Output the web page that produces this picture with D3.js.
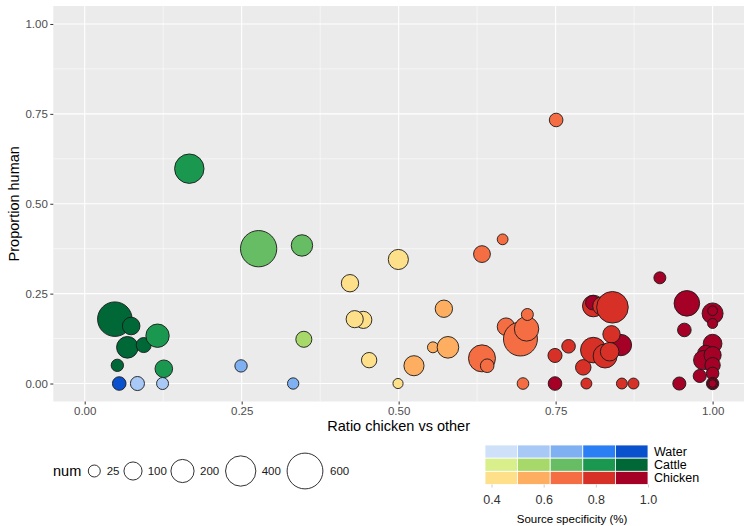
<!DOCTYPE html>
<html>
<head>
<meta charset="utf-8">
<script src="https://cdn.jsdelivr.net/npm/d3@7"></script>
<style>
  body { margin: 0; background: #fff; }
  svg { display: block; font-family: "Liberation Sans", Arial, Helvetica, sans-serif; }
</style>
</head>
<body>
<svg id="chart" width="750" height="526"></svg>
<script>
// ---------------- DATA ----------------
const ratio = [
  0.048, 0.074, 0.068, 0.094, 0.116, 0.052, 0.126, 0.055, 0.084, 0.124,
  0.249, 0.332, 0.1666, 0.277, 0.346, 0.349,
  0.4995, 0.4225, 0.4437, 0.430, 0.453, 0.499,
  0.572, 0.5546, 0.5785, 0.5244,
  0.6327, 0.6656, 0.6327, 0.641, 0.671, 0.694, 0.7037, 0.705, 0.698, 0.7508,
  0.749, 0.7706, 0.794, 0.799, 0.8555, 0.874,
  0.854, 0.810, 0.809, 0.8237, 0.8405, 0.839, 0.810, 0.8288, 0.836,
  0.749, 0.916, 0.959, 0.955, 0.947,
  1.0, 1.0, 1.0,
  1.0, 0.989, 0.985, 1.0, 1.0, 1.0, 0.9795, 1.0, 1.0, 1.0
];
const human = [
  0.179, 0.160, 0.1007, 0.107, 0.133, 0.0506, 0.041, 0.0, 0.0, 0.0,
  0.049, 0.0, 0.5975, 0.375, 0.384, 0.123,
  0.345, 0.279, 0.177, 0.179, 0.065, 0.0,
  0.208, 0.1007, 0.1007, 0.0495,
  0.360, 0.401, 0.070, 0.0495, 0.158, 0.1238, 0.152, 0.192, 0.0, 0.733,
  0.078, 0.1035, 0.045, 0.0, 0.0, 0.0,
  0.107, 0.2156, 0.2248, 0.2156, 0.212, 0.137, 0.093, 0.0765, 0.0885,
  0.0, 0.294, 0.223, 0.149, 0.0,
  0.195, 0.2025, 0.167,
  0.111, 0.084, 0.065, 0.079, 0.051, 0.028, 0.021, 0.0, 0.0, 0.0
];
const num = [
  550, 92, 166, 56, 205, 28, 92, 40, 45, 25,
  28, 20, 372, 620, 162, 69,
  136, 88, 85, 85, 60, 12,
  88, 17, 166, 136,
  80, 16, 299, 40, 92, 529, 231, 25, 22, 40,
  45, 40, 62, 17, 17, 17,
  160, 166, 48, 105, 445, 88, 260, 219, 108,
  40, 25, 260, 40, 35,
  153, 10, 12,
  110, 70, 120, 85, 60, 30, 35, 28, 12, 2
];
const source = [
  "Cattle","Cattle","Cattle","Cattle","Cattle","Cattle","Cattle","Water","Water","Water",
  "Water","Water","Cattle","Cattle","Cattle","Cattle",
  "Chicken","Chicken","Chicken","Chicken","Chicken","Chicken",
  "Chicken","Chicken","Chicken","Chicken",
  "Chicken","Chicken","Chicken","Chicken","Chicken","Chicken","Chicken","Chicken","Chicken","Chicken",
  "Chicken","Chicken","Chicken","Chicken","Chicken","Chicken",
  "Chicken","Chicken","Chicken","Chicken","Chicken","Chicken","Chicken","Chicken","Chicken",
  "Chicken","Chicken","Chicken","Chicken","Chicken",
  "Chicken","Chicken","Chicken",
  "Chicken","Chicken","Chicken","Chicken","Chicken","Chicken","Chicken","Chicken","Chicken","Chicken"
];
const spec = [
  0.95, 0.95, 0.95, 0.95, 0.82, 0.95, 0.82, 0.95, 0.56, 0.56,
  0.69, 0.69, 0.82, 0.69, 0.69, 0.56,
  0.44, 0.44, 0.44, 0.44, 0.44, 0.44,
  0.56, 0.56, 0.56, 0.56,
  0.69, 0.69, 0.69, 0.69, 0.69, 0.69, 0.69, 0.69, 0.69, 0.69,
  0.82, 0.82, 0.82, 0.82, 0.82, 0.82,
  0.95, 0.82, 0.95, 0.82, 0.82, 0.82, 0.82, 0.82, 0.82,
  0.95, 0.95, 0.95, 0.95, 0.95,
  0.95, 0.95, 0.95,
  0.95, 0.95, 0.95, 0.95, 0.95, 0.95, 0.95, 0.95, 0.95, 0.95
];

const sources = ["Water", "Cattle", "Chicken"];
const palettes = {
  Water:   ["#cfe1f9", "#a8c9f6", "#7fb0f2", "#2b7ff5", "#0a52cd"],
  Cattle:  ["#d9ef8b", "#a6d96a", "#66bd63", "#1a9850", "#006837"],
  Chicken: ["#fee08b", "#fdae61", "#f46d43", "#d73027", "#a50026"]
};
const specBreaks = [0.375, 0.5, 0.625, 0.75, 0.875, 1.0];
const specTicks = [0.4, 0.6, 0.8, 1.0];
const xTicks = [0, 0.25, 0.5, 0.75, 1];
const yTicks = [0, 0.25, 0.5, 0.75, 1];
const minorTicks = [0.125, 0.375, 0.625, 0.875];
const sizeBreaks = [25, 100, 200, 400, 600];

// ---------------- CHART ----------------
const svg = d3.select("#chart");
const panel = { left: 53.3, right: 744, top: 6, bottom: 401.5 };

const x = d3.scaleLinear().domain([-0.05, 1.05]).range([panel.left, panel.right]);
const y = d3.scaleLinear().domain([-0.05, 1.05]).range([panel.bottom, panel.top]);
const r = d3.scalePow().exponent(0.5).domain([25, 600]).range([6, 17.9]);
const binIdx = d3.scaleThreshold().domain(specBreaks.slice(1, 5)).range([0, 1, 2, 3, 4]);
const colorOf = (s, v) => palettes[s][binIdx(v)];

// panel background
svg.append("rect")
  .attr("x", panel.left).attr("y", panel.top)
  .attr("width", panel.right - panel.left).attr("height", panel.bottom - panel.top)
  .attr("fill", "#ebebeb");

const grid = svg.append("g");
minorTicks.forEach(t => {
  grid.append("line").attr("x1", x(t)).attr("x2", x(t)).attr("y1", panel.top).attr("y2", panel.bottom)
    .attr("stroke", "#fff").attr("stroke-width", 0.55);
  grid.append("line").attr("y1", y(t)).attr("y2", y(t)).attr("x1", panel.left).attr("x2", panel.right)
    .attr("stroke", "#fff").attr("stroke-width", 0.55);
});
xTicks.forEach(t => {
  grid.append("line").attr("x1", x(t)).attr("x2", x(t)).attr("y1", panel.top).attr("y2", panel.bottom)
    .attr("stroke", "#fff").attr("stroke-width", 1.1);
});
yTicks.forEach(t => {
  grid.append("line").attr("y1", y(t)).attr("y2", y(t)).attr("x1", panel.left).attr("x2", panel.right)
    .attr("stroke", "#fff").attr("stroke-width", 1.1);
});

// points
const pts = ratio.map((d, i) => ({ x: d, y: human[i], n: num[i], s: source[i], v: spec[i] }));
svg.append("g").selectAll("circle").data(pts).join("circle")
  .attr("cx", d => x(d.x))
  .attr("cy", d => y(d.y))
  .attr("r", d => r(d.n))
  .attr("fill", d => colorOf(d.s, d.v))
  .attr("stroke", "#1a1a1a")
  .attr("stroke-width", 0.9);

// axes
const xAxis = svg.append("g").attr("transform", `translate(0,${panel.bottom})`)
  .call(d3.axisBottom(x).tickValues(xTicks).tickFormat(d3.format(".2f")).tickSize(3).tickPadding(2.5));
const yAxis = svg.append("g").attr("transform", `translate(${panel.left},0)`)
  .call(d3.axisLeft(y).tickValues(yTicks).tickFormat(d3.format(".2f")).tickSize(3).tickPadding(2.5));
[xAxis, yAxis].forEach(a => {
  a.select(".domain").remove();
  a.selectAll(".tick line").attr("stroke", "#333").attr("stroke-width", 1);
  a.selectAll(".tick text").attr("fill", "#4d4d4d").style("font-size", "11.5px")
    .style("font-family", "'Liberation Sans', Arial, sans-serif");
});

svg.append("text").attr("x", (panel.left + panel.right) / 2).attr("y", 431)
  .attr("text-anchor", "middle").style("font-size", "14.5px").attr("fill", "#000")
  .text("Ratio chicken vs other");
svg.append("text").attr("transform", `translate(19,${(panel.top + panel.bottom) / 2}) rotate(-90)`)
  .attr("text-anchor", "middle").style("font-size", "14.5px").attr("fill", "#000")
  .text("Proportion human");

// size legend
const sl = svg.append("g");
sl.append("text").attr("x", 53).attr("y", 471).attr("dy", "0.35em")
  .style("font-size", "14.5px").attr("fill", "#000").text("num");
const slCx = [94.3, 133, 182.5, 240.7, 305];
const slTx = [106.7, 147.7, 200, 261.7, 330];
sizeBreaks.forEach((b, i) => {
  sl.append("circle").attr("cx", slCx[i]).attr("cy", 471).attr("r", r(b))
    .attr("fill", "none").attr("stroke", "#1a1a1a").attr("stroke-width", 0.9);
  sl.append("text").attr("x", slTx[i]).attr("y", 471).attr("dy", "0.35em")
    .style("font-size", "11.5px").attr("fill", "#1a1a1a").text(b);
});

// color legend (bivariate)
const cl = svg.append("g");
const lx = d3.scaleLinear().domain([0.375, 1.0]).range([485, 648]);
const rowY = d3.scaleBand().domain(sources).range([445, 484.5]);
sources.forEach(s => {
  for (let k = 0; k < 5; k++) {
    cl.append("rect")
      .attr("x", lx(specBreaks[k])).attr("y", rowY(s))
      .attr("width", lx(specBreaks[k + 1]) - lx(specBreaks[k])).attr("height", rowY.bandwidth())
      .attr("fill", palettes[s][k]).attr("stroke", "#fff").attr("stroke-width", 0.8);
  }
  cl.append("text").attr("x", 654).attr("y", rowY(s) + rowY.bandwidth() / 2).attr("dy", "0.35em")
    .style("font-size", "12.5px").attr("fill", "#000").text(s);
});
const lAxis = cl.append("g").attr("transform", "translate(0,484.5)")
  .call(d3.axisBottom(lx).tickValues(specTicks).tickFormat(d3.format(".1f")).tickSize(3).tickPadding(8));
lAxis.select(".domain").remove();
lAxis.selectAll(".tick line").attr("stroke", "#ccc");
lAxis.selectAll(".tick text").attr("fill", "#333").style("font-size", "12.5px")
  .style("font-family", "'Liberation Sans', Arial, sans-serif");
cl.append("text").attr("x", 572).attr("y", 519).attr("dy", "0.35em").attr("text-anchor", "middle")
  .style("font-size", "11.5px").attr("fill", "#000").text("Source specificity (%)");
</script>
</body>
</html>
